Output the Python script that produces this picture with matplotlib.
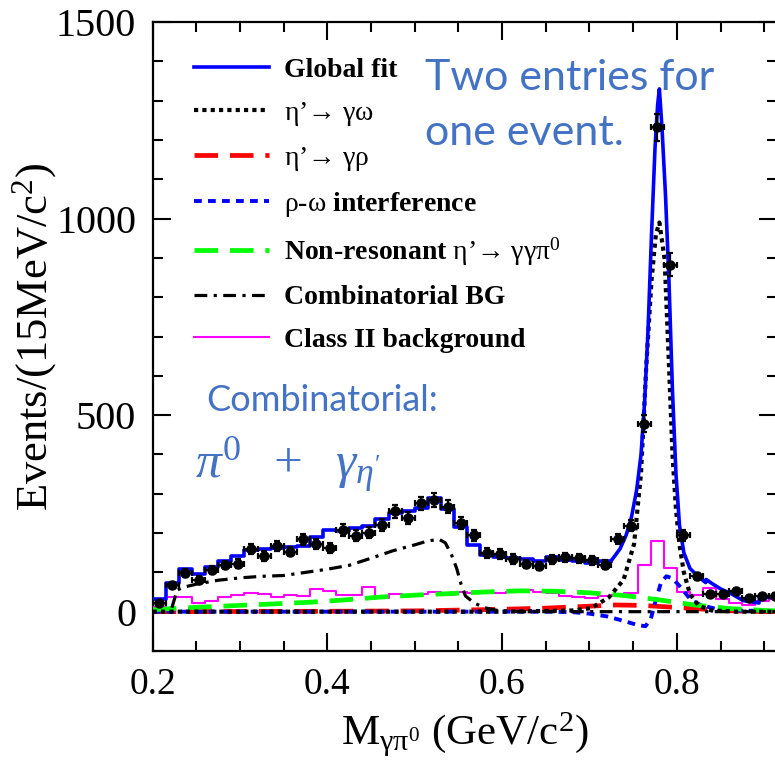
import numpy as np
import matplotlib
matplotlib.use("Agg")
import matplotlib.pyplot as plt
from matplotlib.ticker import MultipleLocator

plt.rcParams["font.family"] = ["Liberation Serif", "DejaVu Serif"]
plt.rcParams["mathtext.fontset"] = "custom"
plt.rcParams["mathtext.rm"] = "Liberation Serif"
plt.rcParams["mathtext.it"] = "Liberation Serif:italic"
plt.rcParams["mathtext.bf"] = "Liberation Serif:bold"

# %% data -----------------------------------------------------------------
bin_w = 0.015
centers = 0.2075 + bin_w * np.arange(48)
counts = [23, 68, 98, 81, 107, 119, 122, 159, 142, 166, 153, 184, 173, 163,
          208, 193, 201, 221, 255, 238, 276, 284, 267, 225, 195, 149, 147,
          134, 121, 116, 133, 138, 136, 131, 120, 185, 219, 478, 1232, 883,
          195, 90, 46, 46, 52, 35, 39, 41]

# global fit: histogram part below the peak, smooth part across the peak
fit_edges = 0.2 + bin_w * np.arange(36)
fit_steps = [32, 72, 108, 97, 114, 128, 142, 157, 160, 162, 164, 168, 190,
             208, 205, 212, 218, 235, 250, 256, 264, 290, 262, 215, 170, 145,
             138, 136, 134, 128, 138, 132, 128, 124, 130]
peak_x = [0.725, 0.735, 0.742, 0.748, 0.754, 0.759, 0.763, 0.767, 0.771,
          0.775, 0.778, 0.780, 0.783, 0.787, 0.791, 0.795, 0.799, 0.803,
          0.808, 0.815, 0.825, 0.833, 0.8335, 0.840, 0.850, 0.862, 0.876,
          0.894, 0.8945, 0.915]
peak_y = [130, 160, 195, 240, 310, 400, 530, 716, 960, 1180, 1290, 1330,
          1230, 1060, 840, 560, 350, 220, 150, 110, 88, 74, 82, 72, 58, 46,
          28, 22, 36, 36]

# eta' -> gamma omega
omega_x = [0.20, 0.60, 0.68, 0.702, 0.722, 0.739, 0.751, 0.759, 0.765, 0.771,
           0.776, 0.780, 0.786, 0.791, 0.795, 0.799, 0.803, 0.808, 0.815,
           0.825, 0.840, 0.870, 0.915]
omega_y = [0, 0, 3, 9, 36, 81, 172, 353, 625, 843, 960, 990, 897, 625, 400,
           260, 170, 100, 45, 15, 3, 0, 0]

# eta' -> gamma rho
rho_x = [0.20, 0.40, 0.50, 0.55, 0.60, 0.65, 0.70, 0.73, 0.76, 0.79, 0.82,
         0.85, 0.88, 0.915]
rho_y = [0, 1, 2, 4, 6, 9, 14, 17, 16, 12, 8, 3, 1, 0]

# rho-omega interference
intf_x = [0.20, 0.65, 0.68, 0.70, 0.72, 0.74, 0.755, 0.764, 0.770, 0.776,
          0.782, 0.788, 0.795, 0.804, 0.816, 0.827, 0.845, 0.870, 0.915]
intf_y = [0, 0, -1, -5, -12, -24, -34, -37, -20, 30, 75, 90, 85, 63, 30, 17,
          7, 3, 1]

# non-resonant eta' -> gamma gamma pi0
nonres_x = [0.20, 0.23, 0.26, 0.30, 0.34, 0.38, 0.42, 0.46, 0.50, 0.54, 0.58,
            0.62, 0.66, 0.70, 0.74, 0.78, 0.82, 0.86, 0.90, 0.915]
nonres_y = [5, 9, 12, 16, 20, 24, 30, 37, 42, 46, 50, 53, 52, 48, 41, 30, 17,
            8, 3, 2]

# combinatorial background
comb_x = [0.222, 0.228, 0.235, 0.25, 0.275, 0.30, 0.325, 0.35, 0.375, 0.40,
          0.425, 0.45, 0.475, 0.50, 0.515, 0.528, 0.535, 0.542, 0.548, 0.553,
          0.558, 0.568, 0.58, 0.595, 0.62, 0.915]
comb_y = [10, 55, 62, 70, 80, 86, 90, 92, 100, 108, 118, 136, 155, 170, 180,
          184, 175, 145, 110, 70, 40, 22, 10, 3, 0, 0]

# class II background (histogram)
cls2 = [13, 38, 38, 22, 28, 38, 43, 47, 45, 38, 42, 40, 58, 52, 43, 42, 62,
        36, 45, 40, 46, 50, 42, 50, 47, 52, 48, 50, 55, 50, 48, 40, 38, 34,
        40, 42, 48, 120, 181, 111, 50, 42, 60, 32, 22, 17, 28, 33]
cls2_edges = 0.2 + bin_w * np.arange(len(cls2) + 1)

labels = ["Global fit",
          r"$\mathrm{η’→\ γω}$",
          r"$\mathrm{η’→\ γρ}$",
          r"$\mathrm{ρ}$-$\mathrm{ω}$ interference",
          r"Non-resonant $\mathrm{η’→\ γγπ^0}$",
          "Combinatorial BG",
          "Class II background"]

# %% plot ----------------------------------------------------------------
fig = plt.figure(figsize=(7.75, 7.62), dpi=100)
ax = fig.add_axes([0.197, 0.1457, 0.806, 0.8253])

h_fit, = ax.plot(np.append(fit_edges[:-1], fit_edges[-1]),
                 np.append(fit_steps, fit_steps[-1]),
                 drawstyle="steps-post", color="#0000ff", lw=2.6, zorder=6)
ax.plot(peak_x, peak_y, color="#0000ff", lw=2.6, zorder=6)
h_om, = ax.plot(omega_x, omega_y, color="black", lw=3.0,
                linestyle=(0, (1, 1)), zorder=5)
h_rho, = ax.plot(rho_x, rho_y, color="#ff0000", lw=3.4,
                 linestyle=(0, (5, 2.5)), zorder=4)
h_int, = ax.plot(intf_x, intf_y, color="#0000ff", lw=2.8,
                 linestyle=(0, (2, 1.6)), zorder=4)
h_nr, = ax.plot(nonres_x, nonres_y, color="#00ff00", lw=3.4,
                linestyle=(0, (5, 2.5)), zorder=4)
h_cb, = ax.plot(comb_x, comb_y, color="black", lw=2.3,
                linestyle=(0, (4, 2, 1, 2)), zorder=4)
h_c2, = ax.plot(cls2_edges, np.append(cls2, cls2[-1]), drawstyle="steps-post",
                color="#ff00ff", lw=1.5, zorder=3)

ax.errorbar(centers, counts, xerr=bin_w / 2, yerr=np.sqrt(counts), fmt="o",
            color="black", ms=6.5, elinewidth=1.6, capsize=2.5, capthick=1.6,
            zorder=7)

leg = ax.legend([h_fit, h_om, h_rho, h_int, h_nr, h_cb, h_c2], labels,
                loc="upper left", bbox_to_anchor=(0.035, 0.975), frameon=False,
                prop={"family": "Liberation Serif", "weight": "bold", "size": 20},
                handlelength=2.7, handletextpad=0.55, labelspacing=0.61,
                borderaxespad=0.3)

ax.text(0.436, 0.911, "Two entries for", transform=ax.transAxes,
        family="Lato", size=31, color="#4472C4", va="center", ha="left")
ax.text(0.436, 0.823, "one event.", transform=ax.transAxes,
        family="Lato", size=31, color="#4472C4", va="center", ha="left")
ax.text(0.086, 0.399, "Combinatorial:", transform=ax.transAxes,
        family="Lato", size=26, color="#4472C4", va="center", ha="left")
ax.text(0.067, 0.295, r"$\pi^0\ \ +\ \ \gamma_{\eta'}$", transform=ax.transAxes,
        size=37, color="#4472C4", va="center", ha="left")

ax.set_xlim(0.2, 0.915)
ax.set_ylim(-100, 1500)
ax.xaxis.set_major_locator(MultipleLocator(0.2))
ax.xaxis.set_minor_locator(MultipleLocator(0.05))
ax.yaxis.set_major_locator(MultipleLocator(500))
ax.yaxis.set_minor_locator(MultipleLocator(100))
ax.tick_params(which="both", direction="in", top=True, right=True,
               width=1.5, pad=12)
ax.tick_params(axis="x", labelsize=27)
ax.tick_params(axis="y", labelsize=29)
ax.tick_params(which="major", length=13)
ax.tick_params(which="minor", length=7)
for s in ax.spines.values():
    s.set_linewidth(1.6)

ax.set_xlabel(r"M$_{\mathrm{γπ^0}}$ (GeV/c$^2$)", fontsize=31, labelpad=6)
ax.set_ylabel(r"Events/(15MeV/c$^2$)", fontsize=32)
ax.yaxis.set_label_coords(-0.15, 0.5)

fig.savefig("out.png", dpi=100)
